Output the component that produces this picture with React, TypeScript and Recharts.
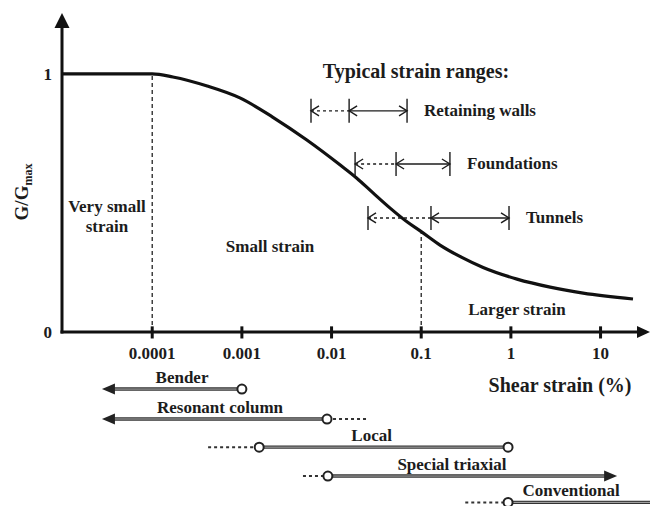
import React from 'react';
import { ComposedChart, Line, Scatter, XAxis, YAxis, ReferenceLine } from 'recharts';

const FONT = '"Liberation Serif", "Times New Roman", serif';
const INK = '#1c1c1c';

const X_MIN = 9.86e-6;
const X_MAX = 35.6;
const Y_MIN = -0.674;
const Y_MAX = 1.236;

// G/Gmax degradation curve
const curveStrain = [1e-5, 1e-4, 1.7e-4, 4.1e-4, 9.5e-4, 2.2e-3, 5.3e-3, 0.0125, 0.019, 0.029, 0.045, 0.07, 0.1, 0.162, 0.28, 0.49, 1.17, 2.74, 6.4, 23];
const curveRatio = [1, 1, 0.988, 0.953, 0.907, 0.833, 0.744, 0.647, 0.597, 0.539, 0.48, 0.426, 0.389, 0.337, 0.29, 0.25, 0.205, 0.174, 0.151, 0.128];

const tickValues = [0.0001, 0.001, 0.01, 0.1, 1, 10];
const tickLabels = ['0.0001', '0.001', '0.01', '0.1', '1', '10'];

// typical strain ranges (dashed lead-in, then solid range)
const rangeNames = ['Retaining walls', 'Foundations', 'Tunnels'];
const rangeLevel = [0.857, 0.651, 0.442];
const rangeLow = [0.0059, 0.0183, 0.0255];
const rangeMid = [0.0157, 0.0524, 0.1285];
const rangeHigh = [0.0695, 0.209, 0.953];

// measuring techniques below the axis
const instNames = ['Bender', 'Resonant column', 'Local', 'Special triaxial', 'Conventional'];
const instLevel = [-0.221, -0.337, -0.446, -0.558, -0.66];
const instDotFrom = [null, null, 0.00042, 0.0048, 0.31];
const instFrom = [2.75e-5, 2.75e-5, 0.00156, 0.0091, 0.93];
const instTo = [0.001, 0.0089, 0.93, 15.3, X_MAX];
const instDotTo = [null, 0.025, null, null, null];
const instLeftEnd = ['arrow', 'arrow', 'circle', 'circle', 'circle'];
const instRightEnd = ['circle', 'circle', 'circle', 'arrow', 'none'];
const instLabelAt = [2.15e-4, 5.7e-4, 0.028, 0.22, 4.7];

const zoneTexts = ['Very small', 'strain', 'Small strain', 'Larger strain'];
const zoneX = [3.13e-5, 3.13e-5, 2.06e-3, 1.17];
const zoneY = [0.488, 0.407, 0.333, 0.089];

const curveData = curveStrain.map((x, i) => ({ x, y: curveRatio[i] }));
const zoneData = zoneTexts.map((text, i) => ({ x: zoneX[i], y: zoneY[i], text }));
const titleData = [{ x: 0.0875, y: 1.012, text: 'Typical strain ranges:' }];
const axisTitleData = [{ x: 3.53, y: -0.206, text: 'Shear strain (%)' }];
const instLabelData = instNames.map((text, i) => ({ x: instLabelAt[i], y: instLevel[i], text }));
const ratioAtTenth = curveRatio[curveStrain.indexOf(0.1)];

const textShape = (size: number, dy = 0) => (p: any) => (
  <text
    x={p.cx}
    y={p.cy + dy}
    textAnchor="middle"
    dominantBaseline="central"
    fontFamily={FONT}
    fontWeight="bold"
    fontSize={size}
    fill={INK}
  >
    {p.payload.text}
  </text>
);

const chevron = (x: number, y: number, dir: number) => (
  <path d={`M${x + dir * 8},${y - 5} L${x},${y} L${x + dir * 8},${y + 5}`} fill="none" stroke={INK} strokeWidth={1.4} />
);
const bar = (x: number, y: number) => (
  <line x1={x} y1={y - 12} x2={x} y2={y + 12} stroke={INK} strokeWidth={1.4} />
);

const RangeLead = (p: any) => (
  <g>
    <line x1={p.x1} y1={p.y1} x2={p.x2} y2={p.y2} stroke={INK} strokeWidth={1.4} strokeDasharray="3 3" />
    {chevron(p.x1, p.y1, 1)}
    {bar(p.x1, p.y1)}
  </g>
);

const RangeCore = (p: any, name: string) => (
  <g>
    <line x1={p.x1} y1={p.y1} x2={p.x2} y2={p.y2} stroke={INK} strokeWidth={1.4} />
    {chevron(p.x1, p.y1, 1)}
    {chevron(p.x2, p.y2, -1)}
    {bar(p.x1, p.y1)}
    {bar(p.x2, p.y2)}
    <text x={p.x2 + 17} y={p.y1} dominantBaseline="central" fontFamily={FONT} fontWeight="bold" fontSize={17} fill={INK}>
      {name}
    </text>
  </g>
);

const DotLine = (p: any) => (
  <line x1={p.x1} y1={p.y1} x2={p.x2} y2={p.y2} stroke="#333" strokeWidth={2} strokeDasharray="3 3" />
);

const endMark = (kind: string, x: number, y: number, dir: number) => {
  if (kind === 'arrow') {
    return <path d={`M${x},${y} L${x - dir * 13},${y - 5.5} L${x - dir * 13},${y + 5.5} Z`} fill="#222" />;
  }
  if (kind === 'circle') {
    return <circle cx={x} cy={y} r={4.5} fill="#fff" stroke="#222" strokeWidth={2} />;
  }
  return null;
};

const InstLine = (p: any, left: string, right: string) => (
  <g>
    <line x1={p.x1 + (left === 'arrow' ? 8 : 0)} y1={p.y1} x2={p.x2 - (right === 'arrow' ? 8 : 0)} y2={p.y2} stroke="#333" strokeWidth={3.4} />
    <line x1={p.x1 + (left === 'arrow' ? 8 : 0)} y1={p.y1} x2={p.x2 - (right === 'arrow' ? 8 : 0)} y2={p.y2} stroke="#bdbdbd" strokeWidth={0.9} />
    {endMark(left, p.x1, p.y1, -1)}
    {endMark(right, p.x2, p.y2, 1)}
  </g>
);

const YAxisArrow = (p: any) => (
  <g>
    <line x1={p.x1} y1={p.y1 + 1.5} x2={p.x2} y2={p.y2 + 12} stroke="#111" strokeWidth={3} />
    <path d={`M${p.x2},${p.y2} L${p.x2 - 7.5},${p.y2 + 15} L${p.x2 + 7.5},${p.y2 + 15} Z`} fill="#111" />
  </g>
);

const XAxisArrow = (p: any) => (
  <g>
    <line x1={p.x1 - 1.5} y1={p.y1} x2={p.x2 - 10} y2={p.y2} stroke="#111" strokeWidth={3} />
    <path d={`M${p.x2},${p.y2} L${p.x2 - 13},${p.y2 - 6} L${p.x2 - 13},${p.y2 + 6} Z`} fill="#111" />
  </g>
);

export default function App() {
  return (
    <div style={{ position: 'absolute', left: 0, top: 0, width: 651, height: 506, background: '#fff' }}>
      <ComposedChart width={651} height={506} margin={{ top: 13, right: 1, bottom: 0, left: 0 }}>
        <XAxis type="number" dataKey="x" scale="log" domain={[X_MIN, X_MAX]} allowDataOverflow hide />
        <YAxis
          type="number"
          domain={[Y_MIN, Y_MAX]}
          ticks={[0, 1]}
          allowDataOverflow
          width={62}
          axisLine={false}
          tickLine={false}
          tickMargin={4}
          tick={{ fontSize: 17, fontWeight: 'bold', fill: INK, fontFamily: FONT }}
          label={{
            content: () => (
              <text transform="translate(28,192) rotate(-90)" textAnchor="middle" fontFamily={FONT} fontWeight="bold" fontSize={19} fill={INK}>
                G/G
                <tspan fontSize={12} dy={4}>max</tspan>
              </text>
            ),
          }}
        />

        {/* zone boundaries */}
        <ReferenceLine segment={[{ x: 1e-4, y: 0 }, { x: 1e-4, y: 1 }]} stroke="#222" strokeWidth={1.3} strokeDasharray="4 3" />
        <ReferenceLine segment={[{ x: 0.1, y: 0 }, { x: 0.1, y: ratioAtTenth }]} stroke="#222" strokeWidth={1.3} strokeDasharray="4 3" />

        {/* axes */}
        <ReferenceLine segment={[{ x: X_MIN, y: 0 }, { x: X_MIN, y: Y_MAX }]} shape={YAxisArrow} />
        <ReferenceLine segment={[{ x: X_MIN, y: 0 }, { x: X_MAX, y: 0 }]} shape={XAxisArrow} />
        {tickValues.map((t, i) => (
          <ReferenceLine
            key={`t${i}`}
            segment={[{ x: t, y: 0.022 }, { x: t, y: -0.025 }]}
            stroke="#111"
            strokeWidth={3}
            label={{ value: tickLabels[i], position: 'bottom', offset: 8, fill: INK, fontSize: 17, fontWeight: 'bold', fontFamily: FONT }}
          />
        ))}

        <Line data={curveData} dataKey="y" type="monotone" stroke="#111" strokeWidth={3.2} dot={false} isAnimationActive={false} />

        {/* typical strain ranges */}
        {rangeNames.map((name, i) => (
          <ReferenceLine key={`rl${i}`} segment={[{ x: rangeLow[i], y: rangeLevel[i] }, { x: rangeMid[i], y: rangeLevel[i] }]} shape={RangeLead} />
        ))}
        {rangeNames.map((name, i) => (
          <ReferenceLine
            key={`rc${i}`}
            segment={[{ x: rangeMid[i], y: rangeLevel[i] }, { x: rangeHigh[i], y: rangeLevel[i] }]}
            shape={(p: any) => RangeCore(p, name)}
          />
        ))}

        {/* measuring techniques */}
        {instNames.map((name, i) =>
          instDotFrom[i] !== null ? (
            <ReferenceLine key={`df${i}`} segment={[{ x: instDotFrom[i] as number, y: instLevel[i] }, { x: instFrom[i], y: instLevel[i] }]} shape={DotLine} />
          ) : null
        )}
        {instNames.map((name, i) =>
          instDotTo[i] !== null ? (
            <ReferenceLine key={`dt${i}`} segment={[{ x: instTo[i], y: instLevel[i] }, { x: instDotTo[i] as number, y: instLevel[i] }]} shape={DotLine} />
          ) : null
        )}
        {instNames.map((name, i) => (
          <ReferenceLine
            key={`il${i}`}
            segment={[{ x: instFrom[i], y: instLevel[i] }, { x: instTo[i], y: instLevel[i] }]}
            shape={(p: any) => InstLine(p, instLeftEnd[i], instRightEnd[i])}
          />
        ))}

        <Scatter data={zoneData} dataKey="y" shape={textShape(17)} isAnimationActive={false} />
        <Scatter data={titleData} dataKey="y" shape={textShape(20)} isAnimationActive={false} />
        <Scatter data={axisTitleData} dataKey="y" shape={textShape(20)} isAnimationActive={false} />
        <Scatter data={instLabelData} dataKey="y" shape={textShape(17, -12)} isAnimationActive={false} />
      </ComposedChart>
    </div>
  );
}
